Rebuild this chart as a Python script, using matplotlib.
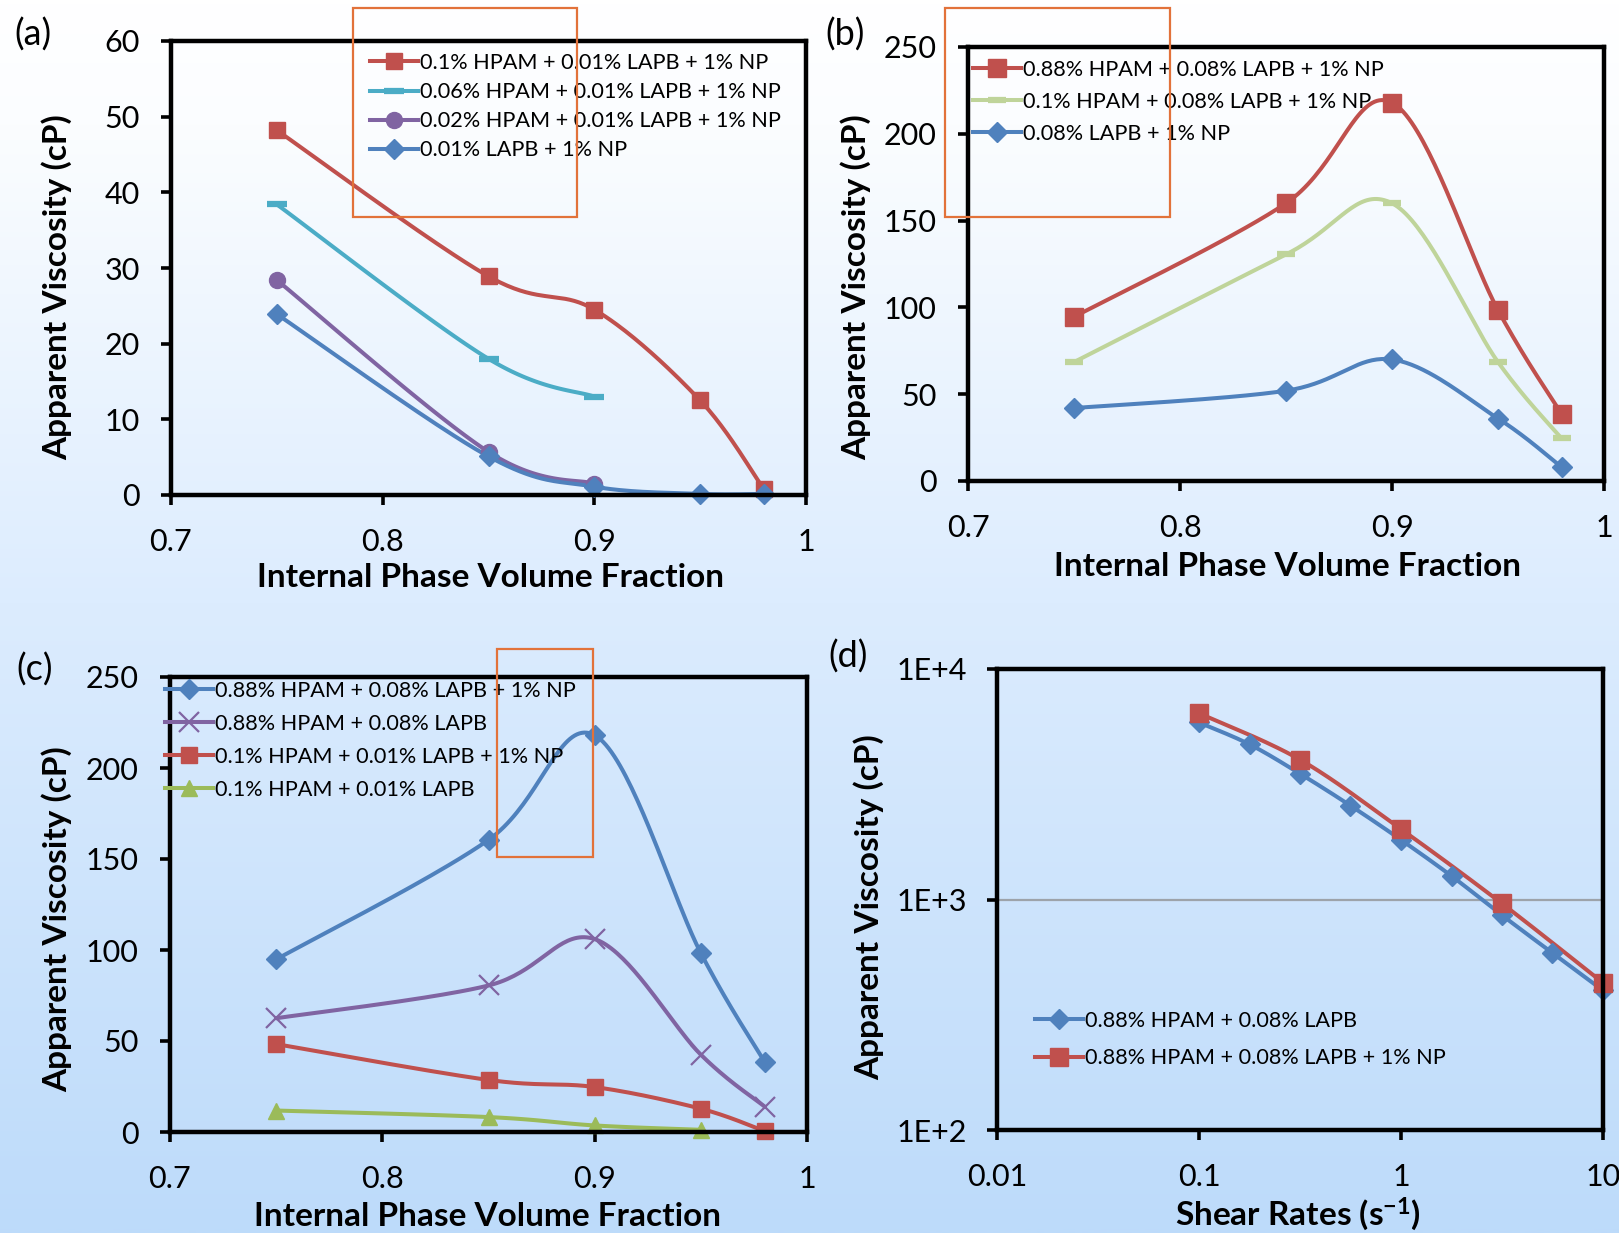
import numpy as np
import matplotlib
matplotlib.use("Agg")
import matplotlib.pyplot as plt
from matplotlib.patches import Rectangle
from matplotlib.colors import LinearSegmentedColormap

# ---------------- data ----------------
phi = [0.75, 0.85, 0.90, 0.95, 0.98]

# panel (a)
a_labels = ["0.1% HPAM + 0.01% LAPB + 1% NP", "0.06% HPAM + 0.01% LAPB + 1% NP",
            "0.02% HPAM + 0.01% LAPB + 1% NP", "0.01% LAPB + 1% NP"]
a_red = [48.2, 28.9, 24.5, 12.5, 0.8]
a_cyan = [38.4, 18.0, 13.0]
a_purple = [28.4, 5.7, 1.5]
a_blue = [23.9, 5.1, 1.1, 0.15, 0.15]

# panel (b)
b_labels = ["0.88% HPAM + 0.08% LAPB + 1% NP", "0.1% HPAM + 0.08% LAPB + 1% NP",
            "0.08% LAPB + 1% NP"]
b_red = [94.5, 160, 218, 98.4, 38.6]
b_green = [68.5, 130.5, 160, 68.5, 24.5]
b_blue = [42, 52, 70, 36, 8]

# panel (c)
c_labels = ["0.88% HPAM + 0.08% LAPB + 1% NP", "0.88% HPAM + 0.08% LAPB",
            "0.1% HPAM + 0.01% LAPB + 1% NP", "0.1% HPAM + 0.01% LAPB"]
c_blue = [94.8, 160.5, 218, 98.3, 38.6]
c_purple = [62.5, 80.5, 106, 42.5, 14]
c_red = [48.3, 28.6, 24.7, 12.8, 0.5]
c_green = [11.8, 8.2, 3.6, 1.2]

# panel (d)
d_labels = ["0.88% HPAM + 0.08% LAPB", "0.88% HPAM + 0.08% LAPB + 1% NP"]
shear_blue = [0.1, 0.178, 0.316, 0.562, 1.0, 1.78, 3.16, 5.62, 10.0]
visc_blue = [5860, 4710, 3515, 2555, 1815, 1264, 855, 586, 403]
shear_red = [0.1, 0.316, 1.0, 3.16, 10.0]
visc_red = [6430, 4045, 2020, 961, 435]

lin_xticks = [0.7, 0.8, 0.9, 1.0]
lin_xticklabels = ["0.7", "0.8", "0.9", "1"]
a_yticks = [0, 10, 20, 30, 40, 50, 60]
bc_yticks = [0, 50, 100, 150, 200, 250]
d_xticks = [0.01, 0.1, 1, 10]
d_xticklabels = ["0.01", "0.1", "1", "10"]
d_yticks = [100, 1000, 10000]
d_yticklabels = ["1E+2", "1E+3", "1E+4"]

# ---------------- style ----------------
FONT = ["Lato", "DejaVu Sans"]
plt.rcParams["font.family"] = FONT
plt.rcParams["mathtext.fontset"] = "custom"
plt.rcParams["mathtext.rm"] = "Lato:bold"
plt.rcParams["mathtext.default"] = "rm"

TICKFS = 22
LEGFS = 15.6
LABFS = 24
PANFS = 26

RED = "#C0504D"
CYAN = "#4BACC6"
PURPLE = "#8064A2"
BLUE = "#4F81BD"
LGREEN = "#BFD49A"
GREEN = "#9BBB59"
ORANGE = "#E2723A"

W, H = 1619, 1233
fig = plt.figure(figsize=(W / 100, H / 100), dpi=100)

# gradient background
bg = fig.add_axes([0, 0, 1, 1], zorder=-10)
cmap = LinearSegmentedColormap.from_list(
    "bg", [(0, "#FFFFFF"), (0.1, "#FBFDFF"), (0.49, "#DCECFE"), (1.0, "#BDDBFA")])
grad = np.linspace(0, 1, 512)[:, None]
bg.imshow(grad, aspect="auto", cmap=cmap, extent=[0, 1, 0, 1], origin="upper")
bg.set_axis_off()


def px_axes(left, right, top, bottom):
    return fig.add_axes([left / W, (H - bottom) / H, (right - left) / W, (bottom - top) / H])


def smooth(ax, x, y, n=40):
    P = ax.transData.transform(np.column_stack([x, y]))
    out = [P[0]]
    for i in range(len(P) - 1):
        p0 = P[i - 1] if i > 0 else P[i]
        p1, p2 = P[i], P[i + 1]
        p3 = P[i + 2] if i + 2 < len(P) else P[i + 1]
        c1 = p1 + (p2 - p0) / 6.0
        c2 = p2 - (p3 - p1) / 6.0
        t = np.linspace(0, 1, n)[1:, None]
        seg = (1 - t) ** 3 * p1 + 3 * (1 - t) ** 2 * t * c1 + 3 * (1 - t) * t ** 2 * c2 + t ** 3 * p2
        out.extend(seg)
    out = ax.transData.inverted().transform(np.array(out))
    return out[:, 0], out[:, 1]


def series(ax, x, y, color, marker, ms, label, mew=1.0, lw=2.9, z=3):
    sx, sy = smooth(ax, x, y)
    ax.plot(sx, sy, color=color, lw=lw, zorder=z, solid_capstyle="round")
    ax.plot(x, y, ls="none", marker=marker, ms=ms, color=color, mec=color, mew=mew,
            zorder=z + 0.5, clip_on=False)
    return ax.plot([], [], color=color, lw=lw, marker=marker, ms=ms, mec=color, mew=mew,
                   label=label)[0]


def style(ax):
    ax.set_facecolor("none")
    for s in ax.spines.values():
        s.set_linewidth(3.2)
        s.set_color("black")
        s.set_zorder(5)
    ax.tick_params(axis="both", which="major", direction="out", length=7.5, width=2.6,
                   labelsize=TICKFS, top=False, right=False)
    ax.tick_params(axis="y", pad=15)
    ax.tick_params(axis="x", pad=16)
    ax.tick_params(which="minor", length=0)


def legend(ax, handles, x, y, fs, spacing):
    ax.legend(handles=handles, loc="upper left", bbox_to_anchor=(x / W, 1 - y / H),
              bbox_transform=fig.transFigure, frameon=False, borderpad=0, borderaxespad=0,
              handlelength=2.2, handletextpad=0.12, labelspacing=spacing, fontsize=fs,
              markerscale=1.0)


def ylab(ax, x, y):
    fig.text(x / W, 1 - y / H, "Apparent Viscosity (cP)", rotation=90, fontsize=LABFS,
             fontweight="bold", ha="center", va="center")


def xlab(text, x, y):
    fig.text(x / W, 1 - y / H, text, fontsize=LABFS, fontweight="bold", ha="center", va="center")


def orange_box(x0, y0, x1, y1):
    fig.add_artist(Rectangle((x0 / W, 1 - y1 / H), (x1 - x0) / W, (y1 - y0) / H,
                             transform=fig.transFigure, fill=False, ec=ORANGE, lw=1.6,
                             zorder=20))


# ---------------- panel (a) ----------------
ax = px_axes(171, 806, 41, 495)
style(ax)
ax.set_xlim(0.7, 1.0)
ax.set_ylim(0, 60)
ax.set_xticks(lin_xticks, lin_xticklabels)
ax.set_yticks(a_yticks)
h = [series(ax, phi, a_red, RED, "s", 12, a_labels[0]),
     series(ax, phi[:3], a_cyan, CYAN, "_", 14, a_labels[1], mew=4.5),
     series(ax, phi[:3], a_purple, PURPLE, "o", 11.5, a_labels[2]),
     series(ax, phi, a_blue, BLUE, "D", 10.5, a_labels[3])]
legend(ax, h, 370, 53, LEGFS, 0.42)
ylab(ax, 57, 287)
xlab("Internal Phase Volume Fraction", 490, 578)
fig.text(33 / W, 1 - 35 / H, "(a)", fontsize=PANFS, ha="center", va="center")
orange_box(353, 8, 577, 217)

# ---------------- panel (b) ----------------
ax = px_axes(968, 1604, 47, 481)
style(ax)
ax.set_xlim(0.7, 1.0)
ax.set_ylim(0, 250)
ax.set_xticks(lin_xticks, lin_xticklabels)
ax.set_yticks(bc_yticks)
h = [series(ax, phi, b_red, RED, "s", 13, b_labels[0]),
     series(ax, phi, b_green, LGREEN, "_", 12.5, b_labels[1], mew=4.5),
     series(ax, phi, b_blue, BLUE, "D", 10.5, b_labels[2])]
legend(ax, h, 973, 60, LEGFS, 0.55)
ylab(ax, 856, 287)
xlab("Internal Phase Volume Fraction", 1287, 567)
fig.text(845 / W, 1 - 35 / H, "(b)", fontsize=PANFS, ha="center", va="center")
orange_box(945, 8, 1170, 217)

# ---------------- panel (c) ----------------
ax = px_axes(170, 807, 677, 1132)
style(ax)
ax.set_xlim(0.7, 1.0)
ax.set_ylim(0, 250)
ax.set_xticks(lin_xticks, lin_xticklabels)
ax.set_yticks(bc_yticks)
h = [series(ax, phi, c_blue, BLUE, "D", 10.5, c_labels[0]),
     series(ax, phi, c_purple, PURPLE, "x", 14, c_labels[1], mew=1.6),
     series(ax, phi, c_red, RED, "s", 12, c_labels[2]),
     series(ax, phi[:4], c_green, GREEN, "^", 11, c_labels[3])]
legend(ax, h, 165, 681, LEGFS, 0.6)
ylab(ax, 57, 919)
xlab("Internal Phase Volume Fraction", 487, 1216)
fig.text(35 / W, 1 - 670 / H, "(c)", fontsize=PANFS, ha="center", va="center")
orange_box(497, 649, 593, 857)

# ---------------- panel (d) ----------------
ax = px_axes(997, 1603, 669, 1130)
style(ax)
ax.set_xscale("log")
ax.set_yscale("log")
ax.set_xlim(0.01, 10)
ax.set_ylim(100, 10000)
ax.set_xticks(d_xticks, d_xticklabels)
ax.set_yticks(d_yticks, d_yticklabels)
ax.minorticks_off()
ax.tick_params(axis="y", pad=14)
ax.yaxis.grid(True, which="major", color="#9DA3AA", lw=1.6, zorder=1)
ax.set_axisbelow(True)
h = [series(ax, shear_blue, visc_blue, BLUE, "D", 10.5, d_labels[0]),
     series(ax, shear_red, visc_red, RED, "s", 13.5, d_labels[1])]
legend(ax, h, 1035, 1011, LEGFS, 0.8)
ylab(ax, 869, 907)
xlab("Shear Rates (s$^{-1}$)", 1298, 1214)
fig.text(848 / W, 1 - 657 / H, "(d)", fontsize=PANFS, ha="center", va="center")

fig.savefig("out.png", dpi=100)
